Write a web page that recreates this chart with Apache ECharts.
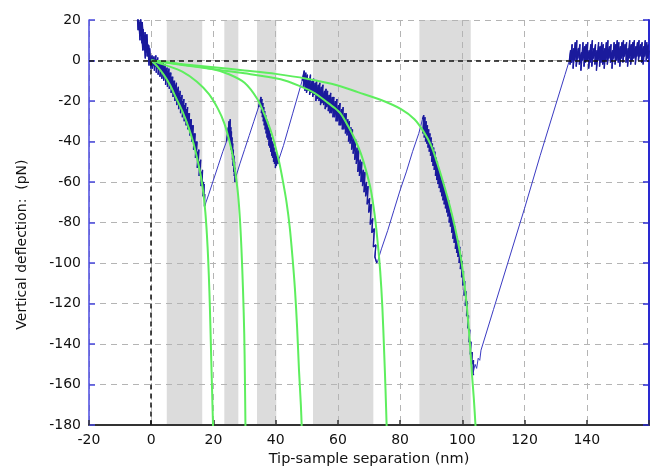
<!DOCTYPE html>
<html>
<head>
<meta charset="utf-8">
<script src="https://cdn.jsdelivr.net/npm/echarts@6/dist/echarts.min.js"></script>
<style>
  html, body { margin: 0; padding: 0; background: #fff; }
  #chart { width: 654px; height: 472px; }
</style>
</head>
<body>
<div id="chart"></div>
<script>
// tick labels
var xTicks = [-20, 0, 20, 40, 60, 80, 100, 120, 140]
var yTicks = [20, 0, -20, -40, -60, -80, -100, -120, -140, -160, -180]

// shaded unfolding regions (nm)
var bandStart = [5, 23.5, 34, 52, 86.2]
var bandEnd = [16.4, 28, 40.2, 71.4, 102.7]

// measured deflection trace, piece by piece
var approach = [[-4.4,20],[-4.2,15],[-4.3,21],[-3.9,15.5],[-4.0,20],[-3.6,10],[-3.7,19],[-3.3,12],[-3.4,21],[-3.0,8.5],[-3.1,15],[-2.7,5],[-2.9,19],[-2.5,10],[-2.6,15.5],[-2.2,5],[-2.3,12.5],[-1.9,1],[-2.0,14],[-1.6,4],[-1.7,12.5],[-1.3,2],[-1.4,13],[-1.0,2.5],[-1.1,8],[-0.7,-2.5],[-0.8,7.5],[-0.4,-1],[-0.5,6],[-0.1,-4],[0,1]]
var peak1 = [[0,1],[0.3,2.5],[0.1,-3],[0.6,1.5],[0.4,-4],[0.9,2],[0.7,-2.5],[1.2,1],[1.0,-5],[1.5,2.5],[1.3,-3],[1.8,0.5],[1.6,-6],[2.1,1.5],[1.9,-4],[2.4,-0.5],[2.2,-7],[2.7,0],[2.5,-4.5],[3.0,-1.5],[2.8,-8],[3.3,-0.5],[3.1,-6],[3.6,-2],[3.4,-9],[3.9,-1],[3.7,-7],[4.2,-3],[4.0,-10],[4.5,-2],[4.3,-8],[4.8,-4],[4.6,-12],[5.1,-3.5],[4.9,-9],[5.4,-5],[5.2,-13],[5.7,-4],[5.5,-11],[6.0,-6],[5.8,-14],[6.3,-6],[6.1,-12],[6.6,-8],[6.4,-16],[6.9,-8],[6.7,-15],[7.2,-10],[7.0,-18],[7.5,-10],[7.3,-17],[7.8,-12],[7.6,-20],[8.1,-11],[7.9,-19],[8.4,-14],[8.2,-22],[8.7,-13],[8.5,-21],[9.0,-16],[8.8,-24],[9.3,-15],[9.1,-22],[9.6,-18],[9.4,-26],[9.9,-17],[9.7,-24],[10.2,-20],[10.0,-28],[10.5,-19],[10.3,-26],[10.8,-22],[10.6,-30],[11.1,-21],[10.9,-28],[11.4,-24],[11.2,-32],[11.7,-23],[11.5,-30],[12.0,-26],[11.8,-34],[12.3,-26],[12.1,-33],[12.6,-29],[12.4,-37],[12.9,-29],[12.7,-36],[13.2,-32],[13.0,-40],[13.5,-32],[13.3,-39],[13.8,-36],[13.6,-44],[14.1,-36],[13.9,-43],[14.4,-40],[14.2,-48],[14.7,-40],[14.5,-47],[15.0,-45],[14.8,-53],[15.3,-44],[15.1,-51],[15.6,-50],[15.4,-57],[15.9,-49],[15.7,-56],[16.2,-55],[16.0,-62],[16.5,-54],[16.3,-61],[16.8,-60],[16.6,-67],[17.0,-61],[16.9,-68],[17.2,-66],[17.1,-72],[17.4,-71]]
var rise1 = [[17.6,-70],[18.5,-66],[20,-59],[21.5,-52],[23,-45],[24.2,-40]]
var peak2 = [[24.2,-40],[24.5,-40],[24.8,-33],[24.7,-38],[25.0,-30],[24.9,-37],[25.2,-31],[25.1,-39],[25.4,-29],[25.3,-36],[25.6,-33],[25.5,-41],[25.8,-35],[25.7,-44],[26.0,-38],[25.9,-46],[26.2,-41],[26.1,-49],[26.4,-44],[26.3,-52],[26.6,-47],[26.5,-55],[26.8,-50],[26.7,-57],[27.0,-53],[26.9,-60],[27.2,-56],[27.1,-59]]
var rise2 = [[27.3,-57],[28.5,-51],[30,-44],[31.5,-37],[33,-30],[34.5,-23]]
var peak3 = [[34.5,-23],[35.3,-18],[35.1,-23],[35.6,-19],[35.4,-26],[35.9,-21],[35.7,-28],[36.2,-23],[36.0,-30],[36.5,-25],[36.3,-32],[36.8,-27],[36.6,-34],[37.1,-29],[36.9,-36],[37.4,-30],[37.2,-38],[37.7,-33],[37.5,-39],[38.0,-34],[37.8,-42],[38.3,-36],[38.1,-43],[38.6,-38],[38.4,-45],[38.9,-40],[38.7,-47],[39.2,-41],[39.0,-48],[39.5,-43],[39.3,-50],[39.8,-45],[39.6,-51],[40.1,-46],[39.9,-53],[40.4,-47],[40.2,-52],[40.7,-48],[40.8,-51]]
var rise3 = [[41,-49],[42.5,-42],[44,-34],[45.5,-26],[47,-18],[48.5,-10]]
var peak4 = [[48.5,-10],[49.2,-5],[48.9,-13],[49.7,-6],[49.4,-15],[50.2,-7],[49.9,-16],[50.7,-9],[50.4,-15],[51.2,-7],[50.9,-17],[51.7,-10],[51.4,-16],[52.2,-9],[51.9,-18],[52.7,-11],[52.4,-17],[53.2,-10],[52.9,-20],[53.7,-12],[53.4,-19],[54.2,-11],[53.9,-20],[54.7,-13],[54.4,-22],[55.2,-12],[54.9,-21],[55.7,-15],[55.4,-22],[56.2,-14],[55.9,-24],[56.7,-15],[56.4,-23],[57.2,-17],[56.9,-25],[57.7,-16],[57.4,-26],[58.2,-18],[57.9,-26],[58.7,-18],[58.4,-28],[59.2,-20],[58.9,-28],[59.7,-19],[59.4,-30],[60.2,-22],[59.9,-30],[60.7,-21],[60.4,-32],[61.2,-24],[60.9,-32],[61.7,-23],[61.4,-34],[62.2,-26],[61.9,-34],[62.7,-26],[62.4,-36],[63.2,-29],[62.9,-37],[63.7,-30],[63.4,-40],[64.2,-33],[63.9,-41],[64.7,-34],[64.4,-44],[65.2,-38],[64.9,-46],[65.7,-39],[65.4,-49],[66.2,-43],[65.9,-51],[66.7,-44],[66.4,-55],[67.2,-49],[66.9,-57],[67.7,-50],[67.4,-60],[68.2,-54],[67.9,-62],[68.7,-55],[68.4,-65],[69.2,-60],[68.9,-67],[69.7,-62],[69.4,-71],[70.2,-68],[69.9,-75],[70.7,-71],[70.4,-81],[71.2,-78],[70.9,-85],[71.7,-83],[71.4,-92],[72.2,-91],[71.9,-97],[72.5,-100]]
var rise4 = [[72.8,-99],[74,-93],[76,-84],[78,-74],[80,-64],[82,-55],[84,-45],[86,-36],[87.2,-29]]
var peak5 = [[87.2,-29],[87.6,-27],[87.35,-36],[88.0,-28],[87.75,-38],[88.4,-30],[88.15,-40],[88.8,-32],[88.55,-41],[89.2,-34],[88.95,-43],[89.6,-36],[89.35,-45],[90.0,-38],[89.75,-47],[90.4,-41],[90.15,-50],[90.8,-43],[90.55,-52],[91.2,-45],[90.95,-54],[91.6,-48],[91.35,-57],[92.0,-50],[91.75,-59],[92.4,-53],[92.15,-61],[92.8,-55],[92.55,-63],[93.2,-57],[92.95,-65],[93.6,-59],[93.35,-67],[94.0,-61],[93.75,-69],[94.4,-63],[94.15,-71],[94.8,-65],[94.55,-73],[95.2,-67],[94.95,-75],[95.6,-69],[95.35,-77],[96.0,-72],[95.75,-80],[96.4,-75],[96.15,-82],[96.8,-77],[96.55,-85],[97.2,-80],[96.95,-88],[97.6,-82],[97.35,-90],[98.0,-85],[97.75,-93],[98.4,-87],[98.15,-95],[98.8,-89],[98.55,-97],[99.2,-92],[98.95,-100],[99.6,-96],[99.35,-103],[100.0,-99],[99.75,-107],[100.4,-104],[100.15,-111],[100.8,-109],[100.55,-116],[101.2,-114],[100.95,-121],[101.6,-119],[101.35,-126],[102.0,-126],[101.75,-132],[102.4,-133],[102.15,-139],[102.8,-139],[102.55,-145],[103.2,-144],[102.95,-150],[103.6,-148],[103.35,-155],[103.8,-155]]
var rise5 = [[104.1,-150],[104.6,-152],[105.1,-147],[105.6,-148],[106,-143],[110,-123],[115,-98],[120,-73],[125,-47],[130,-22],[133,-7],[134.4,0]]
var plateau = [[134.4,0],[134.8,5],[134.6,-2],[135.3,8],[135.1,-1],[135.8,6],[135.6,-4],[136.3,9],[136.1,0],[136.8,10],[136.6,-3],[137.3,6],[137.1,1],[137.8,8],[137.6,-2],[138.3,4],[138.1,-5],[138.8,9],[138.6,0],[139.3,7],[139.1,-3],[139.8,8],[139.6,-1],[140.3,9],[140.1,0],[140.8,5],[140.6,-4],[141.3,8],[141.1,-1],[141.8,10],[141.6,-3],[142.3,6],[142.1,1],[142.8,8],[142.6,-2],[143.3,5],[143.1,-5],[143.8,9],[143.6,0],[144.3,7],[144.1,-3],[144.8,9],[144.6,-1],[145.3,8],[145.1,-2],[145.8,6],[145.6,-4],[146.3,9],[146.1,0],[146.8,10],[146.6,-2],[147.3,7],[147.1,1],[147.8,8],[147.6,-1],[148.3,5],[148.1,-4],[148.8,9],[148.6,1],[149.3,8],[149.1,-2],[149.8,10],[149.6,0],[150.3,9],[150.1,-1],[150.8,7],[150.6,-3],[151.3,9],[151.1,1],[151.8,10],[151.6,-1],[152.3,8],[152.1,2],[152.8,9],[152.6,-1],[153.3,6],[153.1,-3],[153.8,10],[153.6,1],[154.3,8],[154.1,-2],[154.8,9],[154.6,0],[155.3,10],[155.1,1],[155.8,7],[155.6,-2],[156.3,9],[156.1,2],[156.8,10],[156.6,0],[157.3,8],[157.1,2],[157.8,9],[157.6,-1],[158.3,7],[158.1,-2],[158.8,10],[158.6,2],[159.3,9],[159.1,0],[159.8,8],[159.6,1],[160.1,5]]

// WLC fits
var fit1 = [[0,0],[2,-3],[4,-7],[6,-12],[8,-18.5],[10,-25],[12,-33],[13.6,-41],[15,-50],[16,-57.5],[16.8,-66],[17.4,-75],[17.9,-86],[18.3,-98],[18.7,-114],[19.0,-130],[19.3,-148],[19.6,-165],[19.9,-182]]
var fit2 = [[0,0],[5,-2.5],[10,-5.5],[14.7,-10.5],[18.5,-16.5],[21.5,-24],[23.5,-31],[25,-39],[26.2,-47],[27.1,-56],[27.9,-66],[28.5,-78],[29,-93],[29.5,-113],[29.9,-135],[30.1,-155],[30.3,-182]]
var fit3 = [[0,0],[10,-2],[20,-4.3],[25,-6.8],[30,-11],[34.1,-19],[36.5,-27],[38.9,-37],[41.1,-50],[42.5,-61],[43.5,-70],[44.5,-82],[45.4,-97],[46.2,-113],[46.9,-132],[47.5,-153],[48.1,-170],[48.4,-182]]
var fit4 = [[0,0],[10,-2.2],[20,-4.3],[30,-6.3],[41.6,-9.3],[48,-12.8],[52.4,-16],[56,-20],[59,-23.5],[61,-26.5],[63.5,-33],[65.5,-39],[67.4,-46],[69,-54],[70.6,-64],[71.8,-76],[72.8,-90],[73.6,-104],[74.3,-122],[74.9,-145],[75.3,-162],[75.7,-182]]
var fit5 = [[0,0],[10,-1.8],[20,-3.3],[30,-4.9],[40,-6.6],[50,-9],[60,-12.3],[66.4,-15.6],[73.9,-19.5],[80.3,-24],[84.6,-29],[87.5,-35],[90,-42],[92,-51],[94,-61],[96,-72],[98,-85],[99.7,-99],[101.3,-119],[102.4,-139],[103.1,-155],[103.7,-167],[104.3,-182]]

var trace = [].concat(approach, peak1, rise1, peak2, rise2, peak3, rise3, peak4, rise4, peak5, rise5, plateau)
var noisy = [approach, peak1, peak2, peak3, peak4, peak5, plateau]
var fits = [fit1, fit2, fit3, fit4, fit5]

var font = 'DejaVu Sans'
var gridLine = { show: true, lineStyle: { color: '#b4b4b4', type: [6, 5], width: 1 } }

var myChart = echarts.init(document.getElementById('chart'))

var series = [{
  type: 'custom',
  z: -1,
  silent: true,
  clip: true,
  data: bandStart.map(function (s, i) { return [s, bandEnd[i]] }),
  encode: { x: [0, 1] },
  renderItem: function (params, api) {
    var a = api.coord([api.value(0), yTicks[0]])
    var b = api.coord([api.value(1), yTicks[yTicks.length - 1]])
    return {
      type: 'rect',
      shape: { x: a[0], y: a[1], width: b[0] - a[0], height: b[1] - a[1] },
      style: { fill: '#dcdcdc' }
    }
  }
}, {
  type: 'line',
  data: trace,
  showSymbol: false,
  symbol: 'none',
  z: 3,
  lineStyle: { color: '#3a3ac2', width: 1 },
  markLine: {
    silent: true,
    symbol: 'none',
    label: { show: false },
    lineStyle: { color: '#111', type: [5, 4], width: 1.5 },
    data: [
      { yAxis: 0 },
      [{ coord: [0, 0] }, { coord: [0, -180] }]
    ]
  }
}]

// darker, heavier strokes over the noisy stretches
noisy.forEach(function (seg) {
  series.push({
    type: 'line',
    data: seg,
    symbol: 'none',
    z: 3,
    lineStyle: { color: '#1a1a9c', width: 1.4 }
  })
})

fits.forEach(function (f) {
  series.push({
    type: 'line',
    data: f,
    smooth: 0.3,
    symbol: 'none',
    z: 4,
    lineStyle: { color: '#5eee5e', width: 2 }
  })
})

var option = {
  animation: false,
  grid: { left: 89, right: 5, top: 20, bottom: 40 },
  xAxis: {
    type: 'value',
    min: -20,
    max: 160,
    interval: 20,
    name: 'Tip-sample separation (nm)',
    nameLocation: 'middle',
    nameGap: 22,
    nameTextStyle: { fontFamily: font, fontSize: 14.5, color: '#111' },
    axisLine: { show: true, onZero: false, lineStyle: { color: '#333', width: 2 } },
    axisTick: { show: true, inside: true, length: 5, lineStyle: { color: '#333', width: 1.5 } },
    axisLabel: {
      fontFamily: font, fontSize: 14, color: '#111', margin: 8,
      formatter: function (v) { return xTicks.indexOf(v) >= 0 ? String(v) : '' }
    },
    splitLine: gridLine
  },
  yAxis: [{
    type: 'value',
    min: -180,
    max: 20,
    interval: 20,
    name: 'Vertical deflection:  (pN)',
    nameLocation: 'middle',
    nameGap: 60,
    nameTextStyle: { fontFamily: font, fontSize: 14, color: '#111', padding: [0, 44, 0, 0] },
    axisLine: { show: true, onZero: false, lineStyle: { color: '#4a4ae0', width: 1.5 } },
    axisTick: { show: true, inside: true, length: 6, lineStyle: { color: '#4a4ae0', width: 1.5 } },
    axisLabel: {
      fontFamily: font, fontSize: 14, color: '#111', margin: 8,
      formatter: function (v) { return yTicks.indexOf(v) >= 0 ? String(v) : '' }
    },
    splitLine: gridLine
  }, {
    type: 'value',
    position: 'right',
    min: -180,
    max: 20,
    interval: 20,
    axisLine: { show: true, onZero: false, lineStyle: { color: '#2a2ad0', width: 2 } },
    axisTick: { show: true, inside: true, length: 6, lineStyle: { color: '#2a2ad0', width: 1.5 } },
    axisLabel: { show: false },
    splitLine: { show: false }
  }],
  series: series
}

myChart.setOption(option)
</script>
</body>
</html>
